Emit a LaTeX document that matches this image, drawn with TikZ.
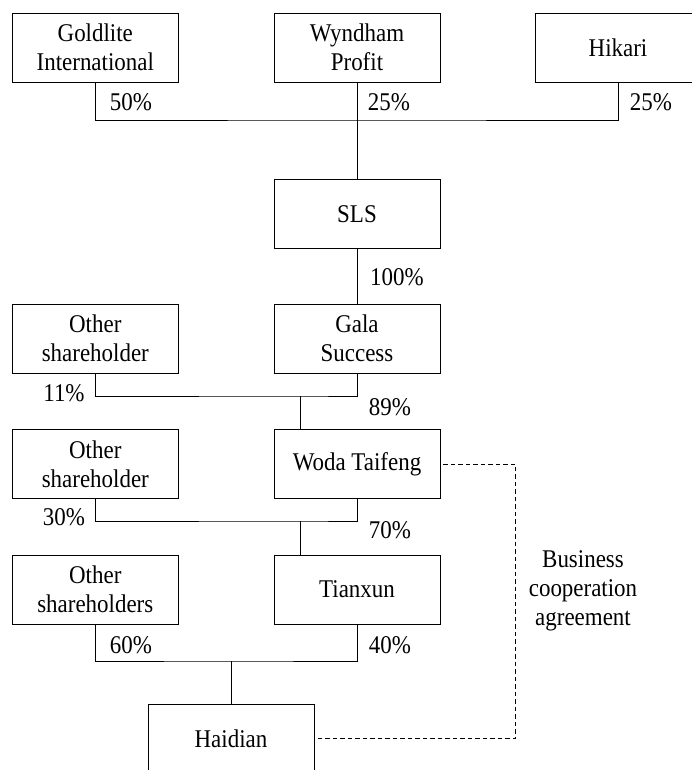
\documentclass[tikz,border=0pt]{standalone}
\usepackage{fontspec}
\setmainfont{Liberation Serif}[FakeStretch=0.9]
\begin{document}
\begin{tikzpicture}[x=1pt,y=-1pt,
  box/.style={draw, line width=0.9pt, minimum width=166pt, minimum height=69pt, align=center, inner sep=0pt},
  conn/.style={line width=0.85pt},
  pct/.style={inner sep=0pt},
  coop/.style={line width=0.85pt, dash pattern=on 4.5pt off 3pt},
  every node/.style={font=\fontsize{25.5}{29}\selectfont}]
\useasboundingbox (0,0) rectangle (692,770);
\clip (0,0) rectangle (692,770);
\node[box] (gold) at (95.3,47.5) {Goldlite\\International};
\node[box] (wyn)  at (357,47.5) {Wyndham\\Profit};
\node[box] (hik)  at (618,47.5) {Hikari};
\node[box] (sls)  at (357,214) {SLS};
\node[box] (gala) at (357,338.5) {Gala\\Success};
\node[box] (oth1) at (95.3,338.5) {Other\\shareholder};
\node[box] (woda) at (357,464) {Woda Taifeng};
\node[box] (oth2) at (95.3,464) {Other\\shareholder};
\node[box] (tian) at (357,589.5) {Tianxun};
\node[box] (oth3) at (95.3,589.5) {Other\\shareholders};
\node[box] (haid) at (231,738.5) {Haidian};

\coordinate (j1) at (357,120);
\coordinate (j2) at (300,396);
\coordinate (j3) at (300,521);
\coordinate (j4) at (231,661);
\coordinate (d1) at (515.5,464);
\coordinate (d2) at (515.5,738.5);

\draw[conn] (gold.south) |- (j1) -| (hik.south);
\draw[conn] (wyn.south) -- (sls.north);
\draw[conn] (sls.south) -- (gala.north);
\draw[conn] (oth1.south) |- (j2) -| (gala.south);
\draw[conn] (j2) -- (j2 |- woda.north);
\draw[conn] (oth2.south) |- (j3) -| (woda.south);
\draw[conn] (j3) -- (j3 |- tian.north);
\draw[conn] (oth3.south) |- (j4) -| (tian.south);
\draw[conn] (j4) -- (haid.north);

\draw[coop] ([xshift=3pt]woda.east) -- (d1) -- (d2) -- ([xshift=3pt]haid.east);

\node[pct] (p1) at (131,102) {50\%};
\node[pct] (p2) at (389,102) {25\%};
\node[pct] (p3) at (651,102) {25\%};
\node[pct] (p4) at (397,277) {100\%};
\node[pct] (p5) at (64,393) {11\%};
\node[pct] (p6) at (390,407) {89\%};
\node[pct] (p7) at (64,517) {30\%};
\node[pct] (p8) at (390,530) {70\%};
\node[pct] (p9) at (131,645) {60\%};
\node[pct] (p10) at (390,645) {40\%};
\node[align=center] (bca) at (583,591) {Business\\cooperation\\agreement};
\end{tikzpicture}
\end{document}
